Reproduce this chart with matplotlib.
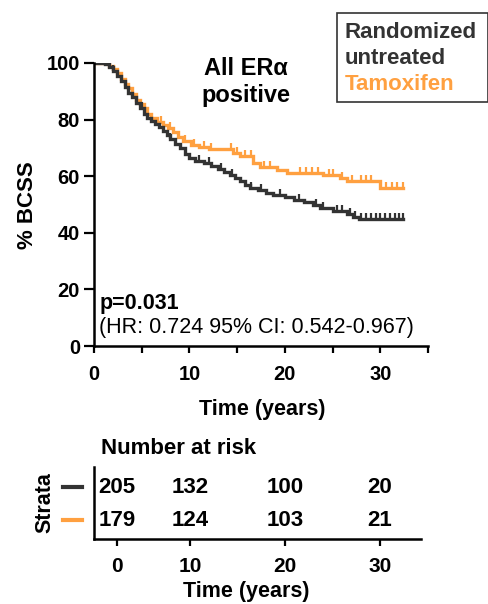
import numpy as np
import matplotlib
matplotlib.use("Agg")
import matplotlib.pyplot as plt
from matplotlib.patches import Rectangle
from matplotlib.ticker import MultipleLocator

plt.rcParams['font.family'] = ['Liberation Sans', 'DejaVu Sans']
plt.rcParams['font.weight'] = 'bold'

DARK = '#333333'
ORANGE = '#FFA040'

# Kaplan-Meier steps (time in years, % BCSS after step)
untreated_t = [0, 1.2, 1.6, 2.0, 2.4, 2.8, 3.2, 3.6, 4.0, 4.4, 4.8, 5.2, 5.6, 6.0,
               6.4, 6.8, 7.2, 7.6, 8.0, 8.5, 9.0, 9.5, 10.0, 10.6, 11.5, 12.3,
               13.0, 13.6, 14.2, 14.8, 15.3, 15.8, 16.3, 17.2, 18.0, 18.8, 20.0,
               21.0, 22.0, 23.0, 23.7, 25.0, 26.5, 27.1, 27.8]
untreated_s = [100, 99.5, 98.5, 97, 95.5, 93.5, 91.5, 89.5, 88, 86, 84, 82, 80.5,
               79.5, 78.5, 77.5, 76, 74.5, 73, 71.5, 70, 68, 66.5, 65.5, 64.5,
               63.5, 62.5, 61.5, 60.5, 59.3, 58.3, 57, 56, 55, 54, 53.3, 52.5,
               51.5, 50.8, 49.8, 48.8, 47.8, 46.5, 45.6, 45]
untreated_censor = [2.0, 5.0, 8.0, 11.0, 12.0, 13.3, 14.5, 16.5, 17.5, 19.5, 21.5,
                    23.3, 24.0, 25.5, 26.0, 26.8, 27.4, 28.0, 28.5, 29.0, 29.5,
                    30.0, 30.5, 31.0, 31.5, 32.0, 32.4]

tamoxifen_t = [0, 1.6, 2.0, 2.4, 2.8, 3.2, 3.6, 4.0, 4.4, 4.8, 5.2, 5.6, 6.0, 6.6,
               7.2, 7.8, 8.3, 8.8, 9.3, 10.2, 11.0, 12.0, 14.6, 15.3, 16.7, 17.4,
               19.2, 20.2, 24.0, 25.8, 26.5, 30.0]
tamoxifen_s = [100, 99, 98, 96.5, 94.5, 92.5, 91, 89, 87, 85.5, 84, 82, 80.5, 79,
               78, 77, 75.5, 74, 72.5, 71, 70.3, 69.5, 68.2, 67, 64.6, 63.3, 62.2,
               61.1, 60.4, 59.4, 58.3, 55.8]
tamoxifen_censor = [7.0, 8.0, 9.5, 10.5, 11.5, 12.3, 14.4, 15.0, 15.8, 16.4, 17.8,
                    18.4, 21.6, 22.2, 22.8, 23.5, 24.6, 25.0, 26.0, 27.0, 28.0,
                    28.5, 29.0, 30.6, 31.2, 31.8, 32.4]
t_end = 32.4

risk_times = [0, 10, 20, 30]
risk_untreated = [205, 132, 100, 20]
risk_tamoxifen = [179, 124, 103, 21]

W, H = 489, 604

# censor tick pointing up from the curve
UP_TICK = [(0, 0), (0, 1)]


def fx(px):
    return px / W


def fy(py):
    return 1 - py / H


def km(ax, t, s, censor, color):
    t = list(t) + [t_end]
    s = list(s) + [s[-1]]
    ax.step(t, s, where='post', color=color, lw=2.4, solid_joinstyle='miter')
    idx = np.searchsorted(t, censor, side='right') - 1
    ax.plot(censor, np.array(s)[idx], ls='none', marker=UP_TICK, ms=9, mew=1.6,
            color=color, fillstyle='none')


fig = plt.figure(figsize=(W / 100, H / 100), dpi=100)

# main survival plot
ax = fig.add_axes([fx(94), fy(346), fx(428) - fx(94), fy(63) - fy(346)])
km(ax, tamoxifen_t, tamoxifen_s, tamoxifen_censor, ORANGE)
km(ax, untreated_t, untreated_s, untreated_censor, DARK)
ax.set_xlim(0, 35)
ax.set_ylim(0, 100)
ax.set_xticks([0, 10, 20, 30])
ax.xaxis.set_minor_locator(MultipleLocator(5))
ax.set_yticks([0, 20, 40, 60, 80, 100])
for sp in ['top', 'right']:
    ax.spines[sp].set_visible(False)
for sp in ['left', 'bottom']:
    ax.spines[sp].set_linewidth(1.8)
ax.tick_params(axis='y', length=7, width=1.6, labelsize=14.5, pad=3)
ax.tick_params(axis='x', which='both', length=5, width=1.6, labelsize=14.5, pad=9)
for lab in ax.get_xticklabels() + ax.get_yticklabels():
    lab.set_fontweight('bold')
fig.text(fx(262), fy(409), 'Time (years)', ha='center', va='center',
         fontsize=15.5, fontweight='bold')
fig.text(fx(28), fy(205), '% BCSS', rotation=90, ha='center', va='center',
         fontsize=16, fontweight='bold')

fig.text(fx(246), fy(82), 'All ERα\npositive', ha='center', va='center',
         fontsize=17, fontweight='bold', linespacing=1.2)

fig.text(fx(100), fy(303), 'p=0.031', ha='left', va='center', fontsize=15.5, fontweight='bold')
fig.text(fx(99), fy(327), '(HR: 0.724 95% CI: 0.542-0.967)', ha='left', va='center',
         fontsize=15.5, fontweight='normal')

# legend box
fig.patches.append(Rectangle((fx(337), fy(102)), fx(488) - fx(337), fy(13) - fy(102),
                             transform=fig.transFigure, fill=False, ec=DARK, lw=1.2))
fig.text(fx(345), fy(32), 'Randomized', color=DARK, fontsize=16, fontweight='bold', va='center')
fig.text(fx(345), fy(58), 'untreated', color=DARK, fontsize=16, fontweight='bold', va='center')
fig.text(fx(345), fy(84), 'Tamoxifen', color=ORANGE, fontsize=16, fontweight='bold', va='center')

# number at risk table
rax = fig.add_axes([fx(94), fy(539), fx(421) - fx(94), fy(467) - fy(539)])
rax.set_xlim(-0.1, 34.3)
rax.set_ylim(0, 1)
tick_pos = [2.3, 10, 20, 30]
rax.set_xticks(tick_pos)
rax.set_xticklabels([str(v) for v in risk_times])
rax.set_yticks([])
for sp in ['top', 'right']:
    rax.spines[sp].set_visible(False)
for sp in ['left', 'bottom']:
    rax.spines[sp].set_linewidth(1.8)
rax.tick_params(axis='x', length=5, width=1.6, labelsize=15, pad=8)
for lab in rax.get_xticklabels():
    lab.set_fontweight('bold')
fig.text(fx(246), fy(592), 'Time (years)', ha='center', va='center',
         fontsize=15.5, fontweight='bold')
for x, a, b in zip(tick_pos, risk_untreated, risk_tamoxifen):
    rax.text(x, 0.72, str(a), ha='center', va='center', fontsize=16, fontweight='bold')
    rax.text(x, 0.25, str(b), ha='center', va='center', fontsize=16, fontweight='bold')

fig.text(fx(101), fy(448), 'Number at risk', ha='left', va='center', fontsize=16, fontweight='bold')
fig.text(fx(45), fy(503), 'Strata', rotation=90, ha='center', va='center',
         fontsize=15.5, fontweight='bold')
fig.lines.append(plt.Line2D([fx(63), fx(82)], [fy(487), fy(487)], transform=fig.transFigure,
                            color=DARK, lw=3))
fig.lines.append(plt.Line2D([fx(63), fx(82)], [fy(520), fy(520)], transform=fig.transFigure,
                            color=ORANGE, lw=3))

fig.savefig('out.png', dpi=100)
